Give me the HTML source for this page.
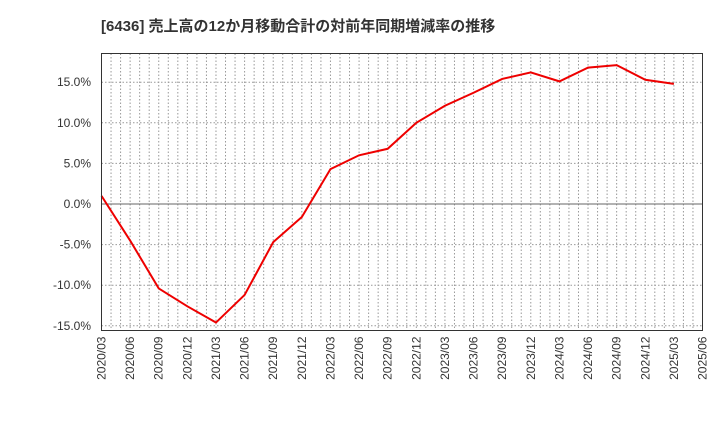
<!DOCTYPE html>
<html><head><meta charset="utf-8"><style>
body{margin:0;background:#fff;}
svg text{font-family:"Liberation Sans","Noto Sans CJK JP",sans-serif;}
</style></head><body>
<svg width="720" height="440" xmlns="http://www.w3.org/2000/svg">
<text x="101" y="31" font-size="15" font-weight="bold" fill="#333">[6436]  売上高の12か月移動合計の対前年同期増減率の推移</text>
<g id="grid"></g>
<g id="axes"></g>
<polyline id="line" fill="none" stroke="#ee0000" stroke-width="2"/>
<rect x="101.5" y="53.5" width="601" height="277" fill="none" stroke="#333"/>
</svg>
<script>
const categories=["2020/03","2020/06","2020/09","2020/12","2021/03","2021/06","2021/09","2021/12","2022/03","2022/06","2022/09","2022/12","2023/03","2023/06","2023/09","2023/12","2024/03","2024/06","2024/09","2024/12","2025/03"];
const values=[1.0,-4.5,-10.4,-12.6,-14.6,-11.2,-4.7,-1.6,4.3,6.0,6.8,10.0,12.1,13.7,15.4,16.2,15.1,16.8,17.1,15.3,14.8];
const xTickLabels=["2020/03","2020/06","2020/09","2020/12","2021/03","2021/06","2021/09","2021/12","2022/03","2022/06","2022/09","2022/12","2023/03","2023/06","2023/09","2023/12","2024/03","2024/06","2024/09","2024/12","2025/03","2025/06"];
const yTicks=[-15,-10,-5,0,5,10,15];
const NS="http://www.w3.org/2000/svg";
const L=101.5,R=702.5,T=53.5,B=330.5;
const x=i=>L+i*(R-L)/21;
const y=v=>204-v*8.12;
const grid=document.getElementById('grid'),axes=document.getElementById('axes');
function mk(tag,attrs,parent){const e=document.createElementNS(NS,tag);for(const k in attrs)e.setAttribute(k,attrs[k]);parent.appendChild(e);return e;}
for(let m=1;m<63;m++){const xx=L+m*(R-L)/63;
 const g=mk('line',{x1:xx,x2:xx,y1:T,y2:B,stroke:'#999','stroke-dasharray':'1.5,2','stroke-width':1},grid);
 
 }
yTicks.forEach(v=>{const yy=y(v);
 const g=mk('line',{x1:L,x2:R,y1:yy,y2:yy,stroke:v===0?'#666':'#999','stroke-dasharray':v===0?'none':'1.5,2','stroke-width':1},grid);
 
 
 const t=mk('text',{x:91,y:yy+4,'text-anchor':'end','font-size':12,fill:'#333'},axes);
 t.textContent=v.toFixed(1)+'%';
 
 });
xTickLabels.forEach((s,i)=>{const xx=x(i);
 const t=mk('text',{x:0,y:0,transform:`translate(${xx+4},${B+6}) rotate(-90)`,'text-anchor':'end','font-size':12,fill:'#333'},axes);
 t.textContent=s;
 
 });
document.getElementById('line').setAttribute('points',values.map((v,i)=>x(i)+','+y(v)).join(' '));
</script>
</body></html>
